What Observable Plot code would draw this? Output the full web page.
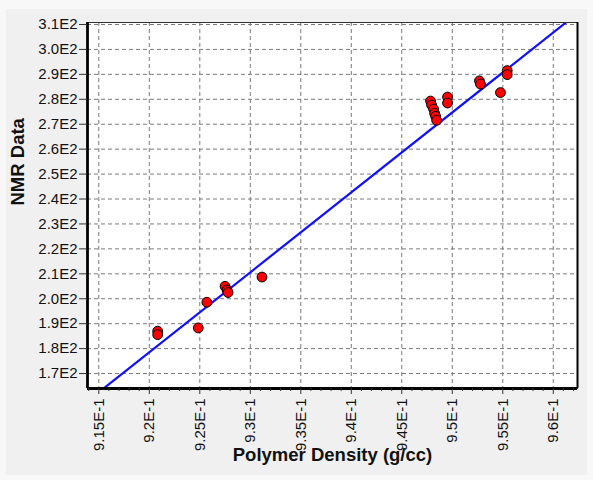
<!DOCTYPE html>
<html>
<head>
<meta charset="utf-8">
<script src="https://cdn.jsdelivr.net/npm/d3@7"></script>
<script src="https://cdn.jsdelivr.net/npm/@observablehq/plot@0.6"></script>
<style>
  html, body { margin: 0; padding: 0; background: #f8f8f8; }
  #wrap { position: relative; width: 593px; height: 480px; overflow: hidden; }
  #panel { position: absolute; left: 6px; top: 9px; width: 581px; height: 466px; background: #f0f0f0; }
  #chart { position: absolute; left: 0; top: 0; }
</style>
</head>
<body>
<div id="wrap"><div id="panel"></div><div id="chart"></div></div>
<script>
// Data
const density = [0.92083, 0.92083, 0.92485, 0.9257, 0.9275, 0.9277, 0.9278, 0.93116,
                 0.94785, 0.94795, 0.94815, 0.94825, 0.94835, 0.94845, 0.94953, 0.94953,
                 0.95269, 0.95279, 0.95544, 0.95544, 0.95477];
const nmr = [187.0, 185.6, 188.3, 198.6, 205.0, 203.5, 202.5, 208.7,
             279.3, 277.7, 276.1, 274.4, 273.2, 271.6, 280.9, 278.5,
             287.4, 286.1, 291.5, 289.9, 282.7];

// Fitted line (end points of the regression line)
const fitX = [0.914, 0.9625];
const fitY = [159.3, 314.8];

// Ticks
const xTicks = [0.915, 0.92, 0.925, 0.93, 0.935, 0.94, 0.945, 0.95, 0.955, 0.96];
const xTickLabels = ["9.15E-1", "9.2E-1", "9.25E-1", "9.3E-1", "9.35E-1", "9.4E-1", "9.45E-1", "9.5E-1", "9.55E-1", "9.6E-1"];
const yTicks = [170, 180, 190, 200, 210, 220, 230, 240, 250, 260, 270, 280, 290, 300, 310];
const yTickLabels = ["1.7E2", "1.8E2", "1.9E2", "2.0E2", "2.1E2", "2.2E2", "2.3E2", "2.4E2", "2.5E2", "2.6E2", "2.7E2", "2.8E2", "2.9E2", "3.0E2", "3.1E2"];
const xMinorTicks = d3.range(914, 963).filter(v => v % 5 !== 0).map(v => v / 1000);

const xLabel = "Polymer Density (g/cc)";
const yLabel = "NMR Data";

const points = density.map((d, i) => ({x: d, y: nmr[i]}));
const fit = fitX.map((d, i) => ({x: d, y: fitY[i]}));
const xLab = new Map(xTicks.map((d, i) => [d, xTickLabels[i]]));
const yLab = new Map(yTicks.map((d, i) => [d, yTickLabels[i]]));
const xDomain = [0.91388, 0.9624];
const yDomain = [164, 310.8];

const plot = Plot.plot({
  width: 593,
  height: 480,
  marginLeft: 87,
  marginRight: 16,
  marginTop: 22,
  marginBottom: 92,
  style: {fontFamily: "'Liberation Sans', Arial, sans-serif", fontSize: "15px", background: "transparent", color: "#111", overflow: "visible"},
  x: {domain: xDomain},
  y: {domain: yDomain},
  marks: [
    Plot.frame({fill: "white", stroke: "none"}),
    Plot.gridX(xTicks, {stroke: "#7a7a7a", strokeOpacity: 1, strokeDasharray: "4,3"}),
    Plot.gridY(yTicks, {stroke: "#7a7a7a", strokeOpacity: 1, strokeDasharray: "4,3"}),
    Plot.line(fit, {x: "x", y: "y", stroke: "#1010ff", strokeWidth: 2.2, clip: true}),
    Plot.dot(points, {x: "x", y: "y", r: 4.9, fill: "#ff0000", stroke: "#000", strokeWidth: 1}),
    Plot.frame({stroke: "#333", strokeWidth: 1}),
    Plot.ruleX([xDomain[0]], {stroke: "#000", strokeWidth: 2.8}),
    Plot.ruleX([xDomain[1]], {stroke: "#000", strokeWidth: 2}),
    Plot.ruleY([yDomain[0]], {stroke: "#000", strokeWidth: 2.8}),
    Plot.axisX(xMinorTicks, {tickSize: 3, tickFormat: () => "", label: null, stroke: "#333"}),
    Plot.axisX(xTicks, {tickSize: 6, tickPadding: 4, tickRotate: -90, tickFormat: d => xLab.get(d), label: null, fontSize: 15, stroke: "#333"}),
    Plot.axisY(yTicks, {tickSize: 8, tickPadding: 2, tickFormat: d => yLab.get(d), label: null, fontSize: 15, stroke: "#333"}),
    Plot.text([xLabel], {frameAnchor: "bottom", dy: 72, fontWeight: "bold", fontSize: 18.5, fill: "#111"}),
    Plot.text([yLabel], {frameAnchor: "left", dx: -69, rotate: -90, fontWeight: "bold", fontSize: 18.5, fill: "#111"})
  ]
});
document.getElementById("chart").appendChild(plot);
</script>
</body>
</html>
